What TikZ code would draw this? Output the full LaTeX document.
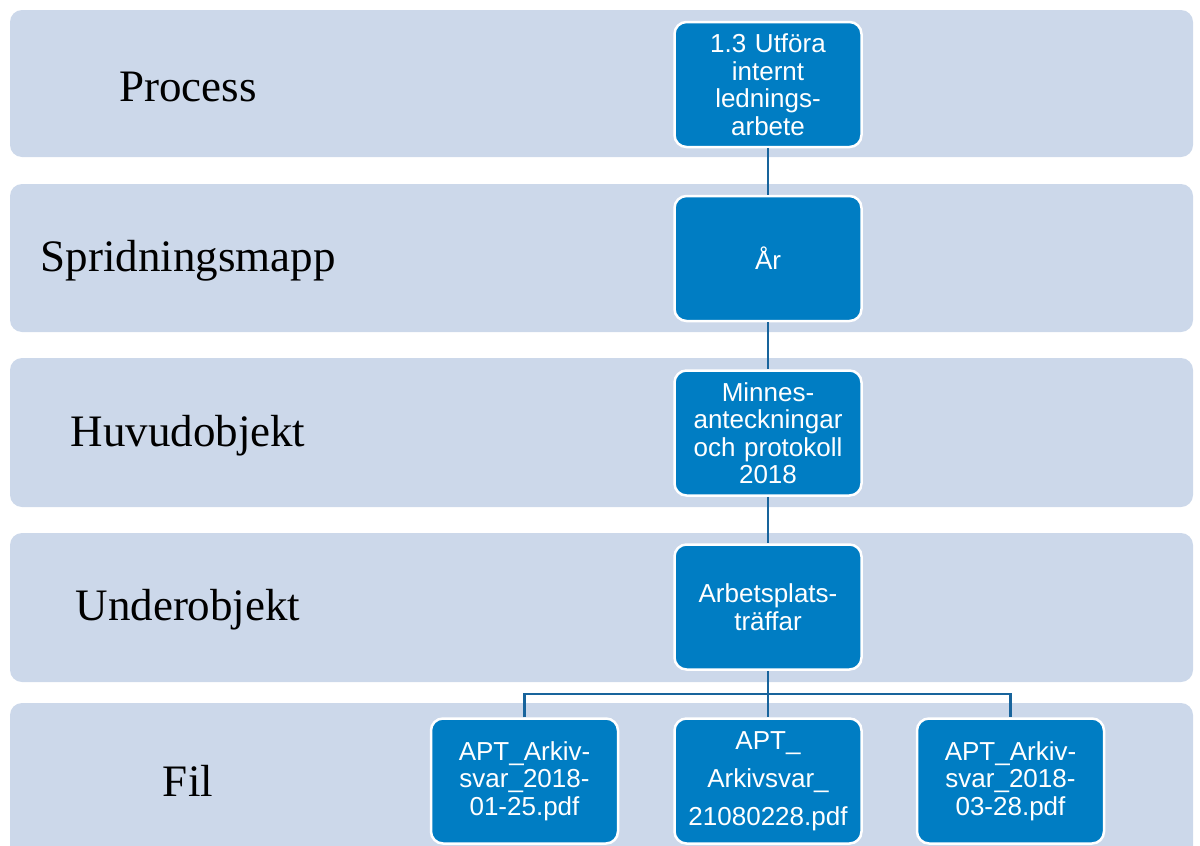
\documentclass[tikz,border=0pt]{standalone}
\usepackage{fontspec}
\setmainfont{Liberation Serif}
\newfontfamily\boxfont{Liberation Sans}
\definecolor{bandfill}{RGB}{204,216,234}
\definecolor{unitfill}{RGB}{0,125,195}
\definecolor{linkcol}{RGB}{24,100,156}
\begin{document}
\begin{tikzpicture}[x=1pt,y=-1pt,
  band/.style={fill=bandfill, draw=none, rounded corners=12pt, minimum width=1183pt, inner sep=0pt},
  lbl/.style={font=\fontsize{45}{54}\selectfont, text=black, inner sep=0pt, yshift=-2.5pt},
  unit/.style={fill=unitfill, draw=white, line width=2.5pt, rounded corners=12pt,
    minimum width=187pt, minimum height=125pt, text width=180pt, align=center,
    inner sep=0pt, text=white, font=\boxfont\fontsize{26}{27.5}\selectfont},
  link/.style={draw=linkcol, line width=2.8pt}]
\path[use as bounding box] (0,0) rectangle (1200,846);
\clip (0,0) rectangle (1200,846);

% level bands
\node[band, minimum height=147pt] (b1) at (601.5,83.5) {};
\node[band, minimum height=148pt] (b2) at (601.5,258) {};
\node[band, minimum height=149pt] (b3) at (601.5,432.5) {};
\node[band, minimum height=149pt] (b4) at (601.5,607.5) {};
\node[band, minimum height=167pt] (b5) at (601.5,786.5) {};

% level names
\node[lbl] (l1) at (188,84) {Process};
\node[lbl] (l2) at (188,258) {Spridningsmapp};
\node[lbl] (l3) at (188,433) {Huvudobjekt};
\node[lbl] (l4) at (188,607) {Underobjekt};
\node[lbl] (l5) at (188,778) {Fil};

% hierarchy
\node[unit] (u1) at (768,84.5) {1.3 Utföra\\internt\\lednings-\\arbete};
\node[unit] (u2) at (768,258.5) {År};
\node[unit] (u3) at (768,433) {Minnes-\\anteckningar\\och protokoll\\2018};
\node[unit] (u4) at (768,607) {Arbetsplats-\\träffar};
\node[unit] (f1) at (524.5,781) {APT\_Arkiv-\\svar\_2018-\\01-25.pdf};
\node[unit, font=\boxfont\fontsize{26}{38}\selectfont] (f2) at (768,781) {APT\_\\Arkivsvar\_\\21080228.pdf};
\node[unit] (f3) at (1010.5,781) {APT\_Arkiv-\\svar\_2018-\\03-28.pdf};

\coordinate (fork) at (768,694);
\draw[link] (u1.south) -- (u2.north);
\draw[link] (u2.south) -- (u3.north);
\draw[link] (u3.south) -- (u4.north);
\draw[link] (u4.south) -- (f2.north);
\draw[link] (f1.north) |- (fork) -| (f3.north);
\end{tikzpicture}
\end{document}
